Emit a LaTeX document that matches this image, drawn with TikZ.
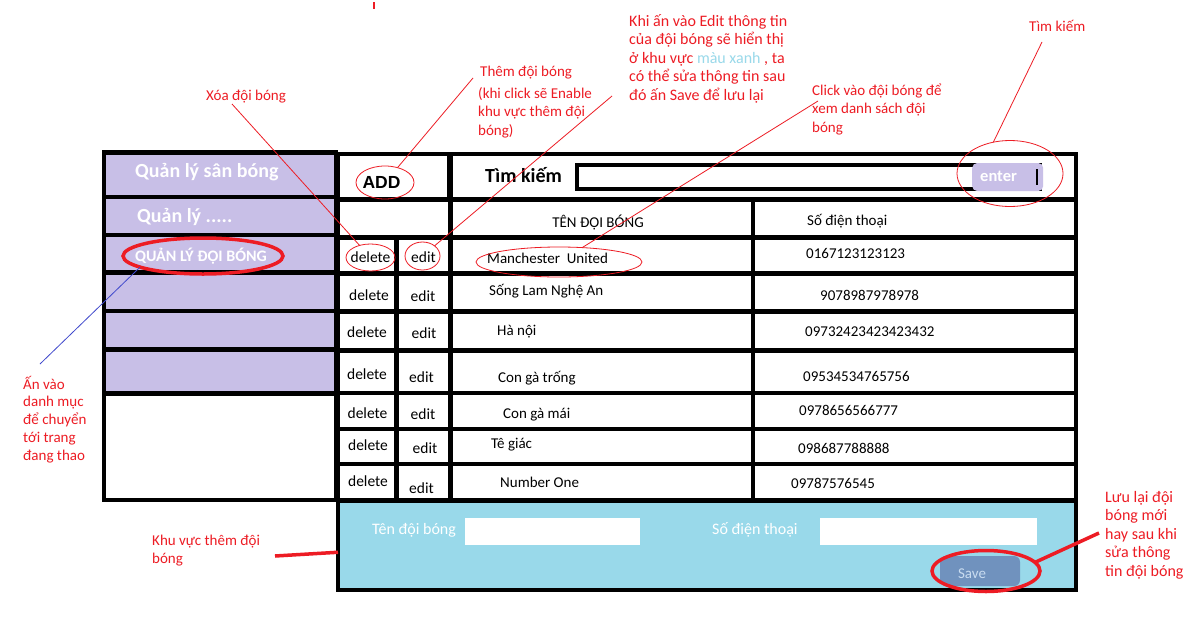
\documentclass[tikz,border=0pt]{standalone}
\usepackage{fontspec}
\setmainfont{Carlito}
\newfontfamily\addfont{Liberation Sans}
\usepackage{tikz}
\usetikzlibrary{shapes.geometric,backgrounds}

\definecolor{menupurple}{HTML}{C8BFE7}
\definecolor{areablue}{HTML}{99D9EA}
\definecolor{savegray}{HTML}{7092BE}
\definecolor{savetext}{HTML}{C9DCF0}
\definecolor{paintred}{HTML}{ED1C24}
\definecolor{linkblue}{HTML}{3F48CC}

\tikzset{
  cellbox/.style={draw=black, line width=4.5pt, fill=white},
  menubox/.style={draw=black, line width=4.5pt, fill=menupurple},
  celltext/.style={inner sep=0pt, anchor=west, text height=10pt, text depth=0pt, font=\fontsize{15}{18}\selectfont},
  btntext/.style={celltext, anchor=center, font=\fontsize{15.5}{18}\selectfont},
  menutext/.style={inner sep=0pt, anchor=base west, text=white, font=\bfseries\fontsize{20}{24}\selectfont},
  note/.style={inner sep=0pt, anchor=base west, align=left, text=paintred, font=\fontsize{15}{18.5}\selectfont},
  ring/.style={ellipse, draw=paintred, line width=0.8pt, inner sep=0pt, outer sep=0pt},
  thickring/.style={ring, line width=3.5pt},
  pointer/.style={draw=paintred, line width=0.8pt},
  redbar/.style={draw=paintred, line width=3.5pt},
}

\begin{document}
\begin{tikzpicture}[x=1pt, y=-1pt]
\useasboundingbox[fill=white] (0,0) rectangle (1188,619);

\foreach \ya/\yb in {152.5/197, 197/235, 235/272.5, 272.5/311, 311/349.5, 349.5/393.5}
  \draw[menubox] (104,\ya) rectangle (336,\yb);
\draw[cellbox] (104,393.5) rectangle (336,500);
\node[menutext] (menuSan) at (135,177) {Quản lý sân bóng};
\node[menutext] (menuMore) at (137,222) {Quản lý .....};
\node[menutext, font=\bfseries\fontsize{16}{19}\selectfont] (menuTeam) at (135,261) {QUẢN LÝ ĐỘI BÓNG};

\draw[cellbox] (338,154) rectangle (449,199.5);
\node[inner sep=0pt, anchor=base, font=\addfont\bfseries\fontsize{17.5}{20}\selectfont] (addBtn) at (381.5,188) {ADD};
\draw[cellbox] (451,154) rectangle (1076,199.5);
\node[inner sep=0pt, anchor=base west, font=\bfseries\fontsize{20}{24}\selectfont] (searchLbl) at (485,182) {Tìm kiếm};
\draw[cellbox, line width=4pt] (577,165) rectangle (1040,188.5);
\node[fill=menupurple, rounded corners=5pt, minimum width=71pt, minimum height=28pt, inner sep=0pt, anchor=west] (enterBtn) at (972,177) {};
\node[inner sep=0pt, anchor=base west, text=white, font=\bfseries\fontsize{16.5}{20}\selectfont] (enterTxt) at (980,181) {enter};
\draw[line width=1.2pt] (1037,169) -- (1037,185);

\draw[cellbox] (338,199.5) rectangle (450.5,237.5);
\draw[cellbox] (450.5,199.5) rectangle (753,237.5);
\draw[cellbox] (753,199.5) rectangle (1076,237.5);
\node[celltext, anchor=center] (hdrTeam) at (598,222) {TÊN ĐỘI BÓNG};
\node[celltext] (hdrPhone) at (807,220) {Số điện thoại};

\foreach \ya/\yb/\dx/\dy/\ex/\ey/\team/\tx/\ty/\phone/\px/\py [count=\i] in {
  237.5/273.5/370.5/257/423.5/257/Manchester\ \ United/487/258/0167123123123/806/253,
  273.5/311.5/369/295/423/296/Sống Lam Nghệ An/489/290/9078987978978/820/295,
  311.5/350.5/367/332/424/333/Hà nội/497/330/09732423423423432/805/331,
  350.5/393/367/374/421.5/377/Con gà trống/498/377/09534534765756/803/376,
  393/429/367.5/413/423/414/Con gà mái/503/413/0978656566777/799/410,
  429/464/368/445/425/448/Tê giác/491/443/098687788888/798/448,
  464/500.5/368/481/421.5/488/Number One/500/482/09787576545/791/483}
{
  \draw[cellbox] (338,\ya) rectangle (396.5,\yb);
  \draw[cellbox] (396.5,\ya) rectangle (450.5,\yb);
  \draw[cellbox] (450.5,\ya) rectangle (753,\yb);
  \draw[cellbox] (753,\ya) rectangle (1076,\yb);
  \node[btntext] (del\i) at (\dx,\dy) {delete};
  \node[btntext] (edit\i) at (\ex,\ey) {edit};
  \node[celltext] (team\i) at (\tx,\ty) {\team};
  \node[celltext] (phone\i) at (\px,\py) {\phone};
}

\node[draw=black, line width=4.5pt, fill=areablue, minimum width=738pt, minimum height=89.5pt, inner sep=0pt, outer sep=0pt, anchor=north west] (addArea) at (338,500.5) {};
\draw[fill=white, draw=none] (465,518) rectangle (640,545);
\draw[fill=white, draw=none] (820,518) rectangle (1037,545);
\node[celltext, text=white, font=\fontsize{16}{19}\selectfont] (areaTeam) at (372,529) {Tên đội bóng};
\node[celltext, text=white, font=\fontsize{16}{19}\selectfont] (areaPhone) at (712,529) {Số điện thoại};
\node[fill=savegray, rounded corners=6pt, minimum width=80pt, minimum height=30pt, inner sep=0pt] (saveBtn) at (980,571) {};
\node[celltext, anchor=center, text=savetext] (saveTxt) at (972,573) {Save};

\node[ring, minimum width=58pt, minimum height=33pt] (ringAdd) at (385,182.5) {};
\node[ring, minimum width=49pt, minimum height=27pt] (ringDel) at (370.5,257.5) {};
\node[ring, minimum width=35pt, minimum height=28pt] (ringEdit) at (422.5,256) {};
\node[ring, minimum width=166pt, minimum height=30pt] (ringTeam) at (559,262) {};
\node[ring, minimum width=106pt, minimum height=66pt] (ringSearch) at (1010,173.5) {};
\node[thickring, minimum width=160pt, minimum height=36pt] (ringMenu) at (203,256) {};
\node[thickring, minimum width=108pt, minimum height=41pt] (ringSave) at (986,571) {};

\node[note] (noteXoa) at (206,100) {Xóa đội bóng};
\node[note] (noteThem) at (480,76) {Thêm đội bóng};
\node[note] (noteEnable) at (478,135) {(khi click sẽ Enable\\khu vực thêm đội\\bóng)};
\node[note, font=\fontsize{16}{18.5}\selectfont] (noteEdit) at (629,100) {Khi ấn vào Edit thông tin\\của đội bóng sẽ hiển thị\\ở khu vực \textcolor{areablue}{màu xanh} , ta\\có thể sửa thông tin sau\\đó ấn Save để lưu lại};
\node[note] (noteClick) at (812,132) {Click vào đội bóng để\\xem danh sách đội\\bóng};
\node[note] (noteSearch) at (1029,31) {Tìm kiếm};
\node[note, font=\fontsize{15}{17.75}\selectfont] (noteMenu) at (23,460) {Ấn vào\\danh mục\\để chuyển\\tới trang\\đang thao};
\node[note] (noteArea) at (152,563.5) {Khu vực thêm đội\\bóng};
\node[note, font=\fontsize{16}{18.5}\selectfont] (noteSave) at (1105,576) {Lưu lại đội\\bóng mới\\hay sau khi\\sửa thông\\tin đội bóng};

\draw[pointer] ([shift={(26,4)}]noteXoa.base west) -- (ringDel);
\draw[pointer] ([shift={(-7,2)}]noteThem.base west) -- (ringAdd);
\draw[pointer] ([shift={(-17,-4)}]noteEdit.base west) -- (ringEdit);
\draw[pointer] ([shift={(6,-31)}]noteClick.base west) -- (ringTeam);
\draw[pointer] ([shift={(13,11)}]noteSearch.base west) -- (ringSearch.118);
\draw[pointer, draw=linkblue] ([shift={(17,-96)}]noteMenu.base west) -- (ringMenu.190);
\draw[redbar] ([shift={(123,-7.5)}]noteArea.base west) -- ([yshift=-7pt]addArea.west);
\draw[redbar] (ringSave.10) -- ([shift={(-6,-43)}]noteSave.base west);
\draw[redbar, line width=2pt] (374,2) -- (374,9);
\end{tikzpicture}
\end{document}
